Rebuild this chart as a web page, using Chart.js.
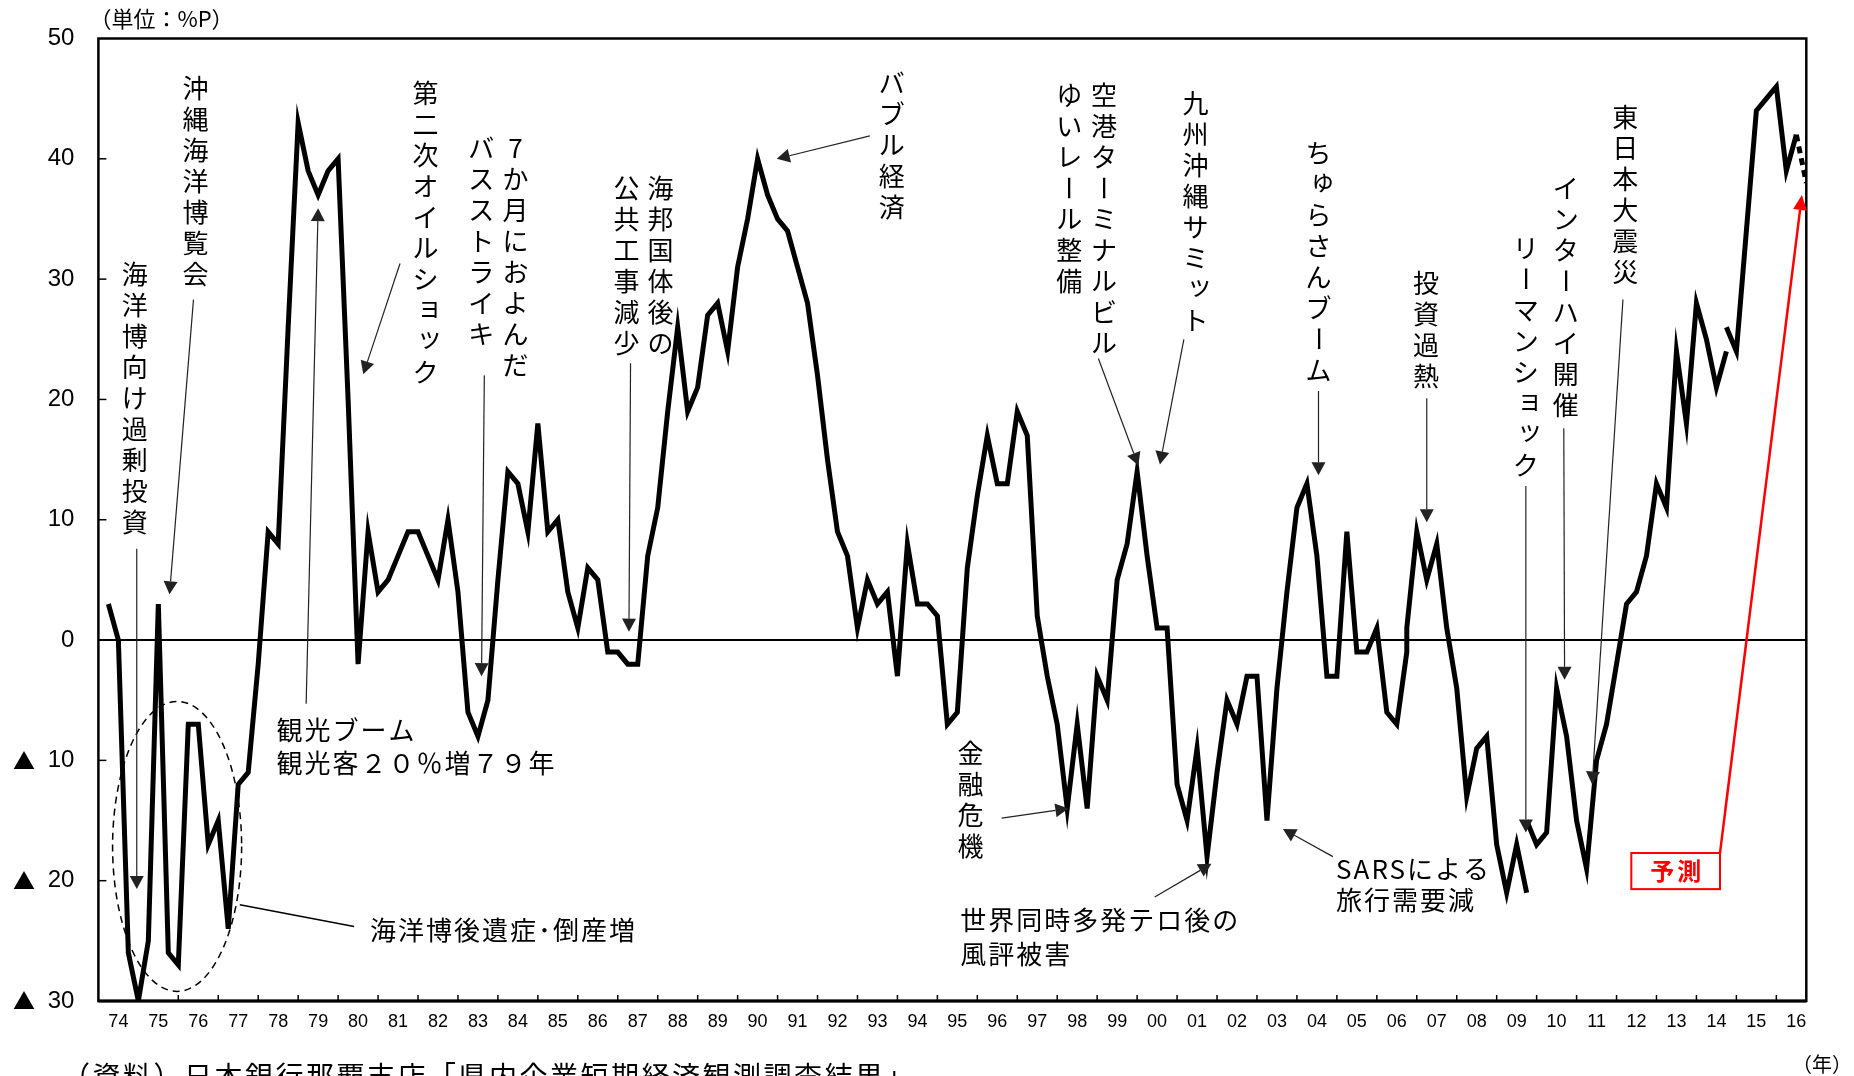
<!DOCTYPE html>
<html lang="ja">
<head>
<meta charset="utf-8">
<title>県内企業の業況判断DI</title>
<script src="https://cdn.jsdelivr.net/npm/chart.js@4.4.1/dist/chart.umd.min.js"></script>
<style>
  html, body { margin: 0; padding: 0; background: #fff; }
  #wrap { position: relative; width: 1854px; height: 1076px; }
</style>
</head>
<body>
<div id="wrap"><canvas id="di-chart" width="1854" height="1076"></canvas></div>
<script>
// year tick labels (one per calendar year, 1974 .. 2016)
const yearLabels = ['74', '75', '76', '77', '78', '79', '80', '81', '82', '83', '84', '85', '86', '87', '88',
  '89', '90', '91', '92', '93', '94', '95', '96', '97', '98', '99', '00', '01', '02', '03', '04', '05', '06',
  '07', '08', '09', '10', '11', '12', '13', '14', '15', '16'];

// quarterly DI, %P. each series starts at the given year position, one value per quarter
const oldBasisStart = 1974.25;
const oldBasis = [
  3, 0, -26, -30, -25, 3, -26, -27, -7, -7, -17, -15, -24, -12, -11, -2,
  9, 8, 26, 43, 39, 37, 39, 40, 20, -2, 9, 4, 5, 7, 9, 9,
  7, 5, 10, 4, -6, -8, -5, 5, 14, 13, 9, 18, 9, 10, 4, 1,
  6, 5, -1, -1, -2, -2, 7, 11, 19, 26, 19, 21, 27, 28, 24, 31,
  35, 40, 37, 35, 34, 31, 28, 22, 15, 9, 7, 1, 5, 3, 4, -3,
  8, 3, 3, 2, -7, -6, 6, 12, 17, 13, 13, 19, 17, 2, -3, -7,
  -14, -7, -14, -3, -5, 5, 8, 14, 7, 1, 1, -12, -15, -9, -18, -11,
  -5, -7, -3, -3, -15, -4, 4, 11, 13, 7, -3, -3, 9, -1, -1, 1,
  -6, -7, -1
];
const basis2007Start = 2006.75;
const basis2007 = [1, 9, 5, 8, 1, -4, -13, -9, -8, -17, -21, -17, -21];
const basis2010Start = 2009.75;
const basis2010 = [-15, -17, -16, -4, -8, -15, -19, -10, -7, -2, 3, 4, 7, 13, 11, 24, 18, 28, 25, 21, 24];
const basis2015Start = 2014.75;
const basis2015 = [26, 24, 34, 44, 45, 46, 39, 42];
const forecastStart = 2016.5;
const forecast = [42, 38];

// annotations, placed in data units (year, %P)
const verticalNotes = [
  { text: '海洋博向け過剰投資', x: 1974.91, y: 30.4 },
  { text: '沖縄海洋博覧会', x: 1976.43, y: 45.9 },
  { text: '第二次オイルショック', x: 1982.19, y: 45.5 },
  { text: '7か月におよんだ', x: 1984.44, y: 40.9 },
  { text: 'バスストライキ', x: 1983.58, y: 40.9 },
  { text: '海邦国体後の', x: 1988.07, y: 37.6 },
  { text: '公共工事減少', x: 1987.22, y: 37.6 },
  { text: 'バブル経済', x: 1993.86, y: 46.3 },
  { text: '空港ターミナルビル', x: 1999.17, y: 45.3 },
  { text: 'ゆいレール整備', x: 1998.30, y: 45.3 },
  { text: '九州沖縄サミット', x: 2001.46, y: 44.6 },
  { text: 'ちゅらさんブーム', x: 2004.54, y: 40.5 },
  { text: '投資過熱', x: 2007.23, y: 29.7 },
  { text: 'リーマンショック', x: 2009.73, y: 32.6 },
  { text: 'インターハイ開催', x: 2010.73, y: 37.6 },
  { text: '東日本大震災', x: 2012.22, y: 43.5 },
  { text: '金融危機', x: 1995.83, y: -9.4 }
];
const horizontalNotes = [
  { text: '観光ブーム', x: 1978.46, y: -7.5 },
  { text: '観光客２０％増７９年', x: 1978.46, y: -10.2 },
  { text: '海洋博後遺症･倒産増', x: 1980.80, y: -24.1 },
  { text: '世界同時多発テロ後の', x: 1995.57, y: -23.3 },
  { text: '風評被害', x: 1995.57, y: -26.1 },
  { text: 'SARSによる', x: 2004.98, y: -19.05 },
  { text: '旅行需要減', x: 2004.98, y: -21.6 }
];
const arrows = [
  [1974.96, 7.6, 1974.96, -20.7],
  [1976.38, 28.3, 1975.78, 3.8],
  [1981.55, 31.3, 1980.63, 22.1],
  [1983.66, 22.0, 1983.59, -3.0],
  [1987.32, 23.0, 1987.28, 0.7],
  [1993.31, 41.9, 1990.98, 40.0],
  [1999.03, 23.4, 2000.03, 14.5],
  [2001.17, 25.0, 2000.57, 14.6],
  [2004.54, 20.7, 2004.54, 13.7],
  [2007.25, 20.1, 2007.25, 9.8],
  [2009.73, 12.8, 2009.73, -16.0],
  [2010.68, 17.6, 2010.70, -3.3],
  [2012.16, 28.3, 2011.39, -12.0],
  [1996.61, -14.8, 1998.28, -14.0],
  [2000.44, -21.35, 2001.86, -18.6],
  [2004.90, -18.0, 2003.65, -15.7],
  [1979.20, -5.3, 1979.50, 35.9]
];

const JP = '"Noto Sans CJK JP", sans-serif';
const NUM = '"Liberation Sans", Arial, sans-serif';

const toPoints = (start, values) => values.map((v, i) => ({ x: start + i * 0.25, y: v }));

const lineStyle = {
  borderColor: '#000',
  borderWidth: 5,
  pointRadius: 0,
  fill: false,
  tension: 0,
  borderJoinStyle: 'miter'
};

function drawVertical(ctx, text, x, y, pitch) {
  [...text].forEach((ch, i) => {
    ctx.save();
    ctx.translate(x, y + i * pitch);
    if (ch === 'ー') ctx.rotate(Math.PI / 2);
    else if ('ャュョッゃゅょっ'.includes(ch)) ctx.translate(4, -4);
    ctx.fillText(ch, 0, 0);
    ctx.restore();
  });
}

function drawArrow(ctx, x1, y1, x2, y2, color, width, head, half) {
  const a = Math.atan2(y2 - y1, x2 - x1);
  const bx = x2 - head * Math.cos(a);
  const by = y2 - head * Math.sin(a);
  ctx.strokeStyle = color;
  ctx.fillStyle = color;
  ctx.lineWidth = width;
  ctx.beginPath();
  ctx.moveTo(x1, y1);
  ctx.lineTo(bx, by);
  ctx.stroke();
  ctx.beginPath();
  ctx.moveTo(x2, y2);
  ctx.lineTo(bx + half * Math.sin(a), by - half * Math.cos(a));
  ctx.lineTo(bx - half * Math.sin(a), by + half * Math.cos(a));
  ctx.closePath();
  ctx.fill();
}

const overlay = {
  id: 'overlay',
  beforeDatasetsDraw(chart) {
    const { ctx, chartArea: a, scales: { y } } = chart;
    ctx.save();
    ctx.strokeStyle = '#000';
    ctx.lineWidth = 2;
    const y0 = y.getPixelForValue(0);
    ctx.beginPath();
    ctx.moveTo(a.left, y0);
    ctx.lineTo(a.right, y0);
    ctx.stroke();
    ctx.restore();
  },
  afterDatasetsDraw(chart) {
    const { ctx, chartArea: a, scales: { x, y } } = chart;
    ctx.save();
    ctx.strokeStyle = '#000';
    ctx.lineWidth = 1.5;
    for (let yr = 1975; yr <= 2016; yr++) {
      const p = x.getPixelForValue(yr);
      ctx.beginPath();
      ctx.moveTo(p, a.bottom);
      ctx.lineTo(p, a.bottom - 6);
      ctx.stroke();
    }
    [40, 30, 20, 10, -10, -20].forEach(v => {
      const p = y.getPixelForValue(v);
      ctx.beginPath();
      ctx.moveTo(a.left, p);
      ctx.lineTo(a.left + 8, p);
      ctx.stroke();
    });
    ctx.lineWidth = 2.5;
    ctx.strokeRect(a.left, a.top, a.right - a.left, a.bottom - a.top);
    ctx.lineWidth = 3;
    ctx.beginPath();
    ctx.moveTo(a.left, a.bottom);
    ctx.lineTo(a.right, a.bottom);
    ctx.stroke();

    // ▲ marks in front of the negative tick labels
    ctx.fillStyle = '#000';
    ctx.font = `22px ${JP}`;
    ctx.textAlign = 'center';
    ctx.textBaseline = 'middle';
    y.ticks.filter(t => t.value < 0).forEach(t => {
      ctx.fillText('▲', 24, y.getPixelForValue(t.value));
    });
    ctx.restore();
  },
  afterDraw(chart) {
    const { ctx, chartArea: a, scales: { x, y } } = chart;
    const px = (vx, vy) => [x.getPixelForValue(vx), y.getPixelForValue(vy)];
    ctx.save();

    // dashed ring around the post-Expo slump
    const [cx, cy] = px(1975.97, -17.15);
    const rx = (x.getPixelForValue(1977.59) - x.getPixelForValue(1974.36)) / 2;
    const ry = (y.getPixelForValue(-29.2) - y.getPixelForValue(-5.1)) / 2;
    ctx.strokeStyle = '#000';
    ctx.lineWidth = 1.5;
    ctx.setLineDash([7, 5]);
    ctx.beginPath();
    ctx.ellipse(cx, cy, rx, ry, 0, 0, Math.PI * 2);
    ctx.stroke();
    ctx.setLineDash([]);

    // plain connector for 海洋博後遺症
    const [l1x, l1y] = px(1980.40, -23.8);
    const [l2x, l2y] = px(1977.54, -22.0);
    ctx.lineWidth = 1.5;
    ctx.beginPath();
    ctx.moveTo(l1x, l1y);
    ctx.lineTo(l2x, l2y);
    ctx.stroke();

    arrows.forEach(([x1, y1, x2, y2]) => {
      const [p1x, p1y] = px(x1, y1);
      const [p2x, p2y] = px(x2, y2);
      drawArrow(ctx, p1x, p1y, p2x, p2y, '#222', 1.2, 13, 7);
    });

    ctx.fillStyle = '#000';
    ctx.font = `26px ${JP}`;
    ctx.textAlign = 'center';
    ctx.textBaseline = 'middle';
    verticalNotes.forEach(n => {
      const [nx, ny] = px(n.x, n.y);
      drawVertical(ctx, n.text, nx, ny, 31);
    });
    ctx.textAlign = 'left';
    ctx.letterSpacing = '2px';
    horizontalNotes.forEach(n => {
      const [nx, ny] = px(n.x, n.y);
      ctx.fillText(n.text, nx, ny);
    });

    // forecast box and red arrow
    const [b1x, b1y] = px(2012.37, -17.7);
    const [b2x, b2y] = px(2014.59, -20.7);
    const [tx, ty] = px(2016.64, 37.0);
    drawArrow(ctx, b2x, b1y, tx, ty, '#ff0000', 2.5, 15, 7);
    ctx.fillStyle = '#fff';
    ctx.fillRect(b1x, b1y, b2x - b1x, b2y - b1y);
    ctx.strokeStyle = '#ff0000';
    ctx.lineWidth = 2;
    ctx.strokeRect(b1x, b1y, b2x - b1x, b2y - b1y);
    ctx.fillStyle = '#ff0000';
    ctx.font = `bold 24px ${JP}`;
    ctx.textAlign = 'center';
    ctx.letterSpacing = '3px';
    ctx.fillText('予測', (b1x + b2x) / 2 + 1.5, (b1y + b2y) / 2);
    ctx.letterSpacing = '0px';

    // unit labels and source line
    ctx.fillStyle = '#000';
    ctx.textAlign = 'left';
    ctx.font = `22px ${JP}`;
    ctx.fillText('（単位：%P）', a.left - 9, 19);
    ctx.textAlign = 'center';
    ctx.font = `20px ${JP}`;
    ctx.fillText('（年）', 1822, 1064);
    ctx.textAlign = 'left';
    ctx.textBaseline = 'top';
    ctx.font = `28px ${JP}`;
    ctx.letterSpacing = '2.5px';
    ctx.fillText('（資料）日本銀行那覇支店「県内企業短期経済観測調査結果」', 62, 1062);
    ctx.restore();
  }
};

const ctx = document.getElementById('di-chart').getContext('2d');
new Chart(ctx, {
  type: 'line',
  data: {
    datasets: [
      // the 2006 rebasing is drawn joined, as in the original
      { ...lineStyle, data: toPoints(oldBasisStart, oldBasis).concat(toPoints(basis2007Start, basis2007)) },
      { ...lineStyle, data: toPoints(basis2010Start, basis2010) },
      { ...lineStyle, data: toPoints(basis2015Start, basis2015) },
      { ...lineStyle, data: toPoints(forecastStart, forecast), borderDash: [7, 5] }
    ]
  },
  options: {
    responsive: false,
    devicePixelRatio: 1,
    animation: false,
    events: [],
    layout: { padding: { top: 38.5, right: 47.7, left: 0, bottom: 0 } },
    plugins: {
      legend: { display: false },
      tooltip: { enabled: false }
    },
    scales: {
      x: {
        type: 'linear',
        min: 1974,
        max: 2016.75,
        grid: { display: false, drawTicks: false },
        border: { display: false },
        afterBuildTicks: s => { s.ticks = yearLabels.map((_, i) => ({ value: 1974.5 + i })); },
        afterFit: s => { s.height = 75; },
        ticks: {
          autoSkip: false,
          maxRotation: 0,
          padding: 10,
          color: '#000',
          font: { family: NUM, size: 18 },
          callback: (v, i) => yearLabels[i]
        }
      },
      y: {
        min: -30,
        max: 50,
        grid: { display: false, drawTicks: false },
        border: { display: false },
        afterFit: s => { s.width = 98.4; },
        ticks: {
          stepSize: 10,
          padding: 24,
          color: '#000',
          font: { family: NUM, size: 24 },
          callback: v => String(Math.abs(v))
        }
      }
    }
  },
  plugins: [overlay]
});
</script>
</body>
</html>
